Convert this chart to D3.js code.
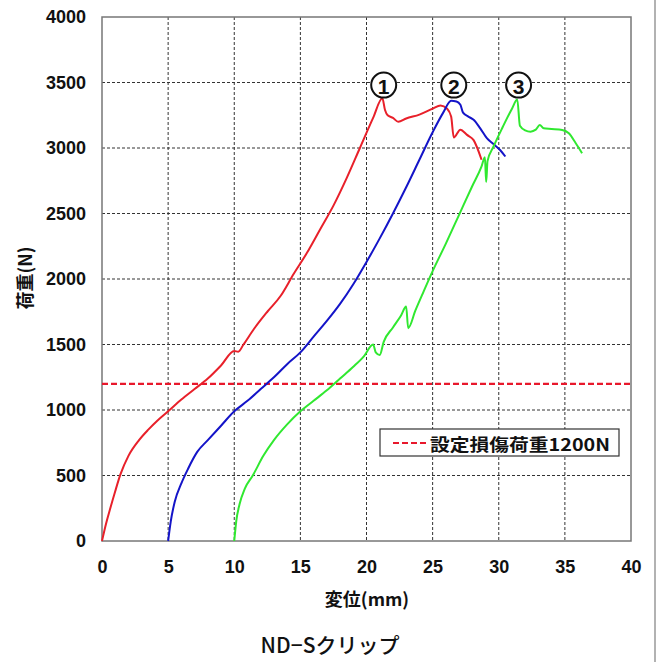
<!DOCTYPE html>
<html>
<head>
<meta charset="utf-8">
<script src="https://cdn.jsdelivr.net/npm/d3@7"></script>
<style>
  body { margin: 0; background: #fff; }
  text { font-family: "Liberation Sans", Arial, sans-serif; }
  .jp { font-family: "Noto Sans CJK JP", sans-serif; }
</style>
</head>
<body>
<div id="chart"></div>
<script>
// axis ticks
var xTicks = [0, 5, 10, 15, 20, 25, 30, 35, 40];
var yTicks = [0, 500, 1000, 1500, 2000, 2500, 3000, 3500, 4000];

// test curves [displacement mm, load N]
var curve1 = [[0,0],[0.3,130],[0.6,240],[1.0,380],[1.4,510],[2.0,650],[2.8,770],[3.5,850],[4.2,920],
  [5,990],[6,1080],[7,1160],[8,1240],[9,1340],[10,1450],[10.3,1445],[10.7,1500],[11.5,1620],
  [12.5,1750],[13.5,1870],[14.5,2040],[15.5,2200],[16.5,2380],[17.5,2560],[18.5,2770],[19.5,3000],
  [20.5,3230],[21.2,3380],[21.4,3290],[21.6,3250],[22.0,3230],[22.4,3200],[23.0,3225],[24.0,3255],
  [25.0,3300],[25.6,3325],[26.1,3300],[26.4,3240],[26.6,3080],[27.1,3140],[27.6,3100],[28.1,3060],[28.7,2910]];
var curve2 = [[5,0],[5.2,150],[5.5,300],[6.0,440],[6.5,550],[7.2,680],[8,770],[9,880],[10,990],
  [11,1070],[12,1160],[13,1250],[14,1350],[15,1440],[16,1560],[17,1680],[18,1810],[19,1960],
  [20,2130],[21,2310],[22,2500],[23,2700],[24,2910],[25,3120],[25.8,3270],[26.4,3360],[26.8,3355],
  [27.1,3330],[27.3,3270],[27.7,3240],[28.1,3215],[28.6,3150],[29.1,3075],[29.6,3030],[30.1,2985],[30.5,2935]];
var curve3 = [[10,0],[10.15,150],[10.4,280],[10.8,400],[11.4,500],[12.2,650],[13,770],[14,890],
  [15,990],[16,1070],[17,1150],[18,1240],[19,1330],[19.8,1410],[20.5,1500],[20.7,1440],[21.0,1420],
  [21.3,1520],[22,1630],[22.6,1720],[23.0,1790],[23.15,1625],[23.7,1760],[24.3,1900],[25,2060],
  [26,2270],[27,2490],[28,2710],[28.7,2860],[28.95,2930],[29.05,2740],[29.15,2900],[29.6,3010],
  [30.3,3160],[31.0,3300],[31.4,3370],[31.6,3170],[32.0,3135],[32.4,3125],[32.8,3140],[33.1,3175],
  [33.4,3150],[34.0,3145],[34.8,3137],[35.3,3112],[35.8,3040],[36.3,2960]];

var peakLabels = ["1", "2", "3"];
var peakX = [21.3, 26.6, 31.5];
var peakY = 3480;

var damageLoad = 1200;
var legendText = "設定損傷荷重1200N";

var W = 659, H = 662;
var m = {left: 102, right: 631, top: 17, bottom: 541};

var svg = d3.select("#chart").append("svg")
  .attr("width", W).attr("height", H);

var x = d3.scaleLinear().domain([0, 40]).range([m.left, m.right]);
var y = d3.scaleLinear().domain([0, 4000]).range([m.bottom, m.top]);

// outer frame line on the right
svg.append("line")
  .attr("x1", 655).attr("x2", 655).attr("y1", 0).attr("y2", H)
  .attr("stroke", "#999").attr("stroke-width", 1.5);

// grid
svg.append("g").selectAll("line").data(xTicks.slice(1, -1)).join("line")
  .attr("x1", d => x(d)).attr("x2", d => x(d))
  .attr("y1", m.top).attr("y2", m.bottom)
  .attr("stroke", "#333").attr("stroke-width", 1).attr("stroke-dasharray", "3,2");
svg.append("g").selectAll("line").data(yTicks.slice(1, -1)).join("line")
  .attr("y1", d => y(d)).attr("y2", d => y(d))
  .attr("x1", m.left).attr("x2", m.right)
  .attr("stroke", "#333").attr("stroke-width", 1).attr("stroke-dasharray", "3,2");

// plot border
svg.append("rect")
  .attr("x", m.left).attr("y", m.top)
  .attr("width", m.right - m.left).attr("height", m.bottom - m.top)
  .attr("fill", "none").attr("stroke", "#777").attr("stroke-width", 1.5);

// axes (labels only, no tick marks)
var xAxis = svg.append("g").attr("transform", "translate(0," + m.bottom + ")")
  .call(d3.axisBottom(x).tickValues(xTicks).tickFormat(d3.format("d")).tickSize(0).tickPadding(19));
var yAxis = svg.append("g").attr("transform", "translate(" + m.left + ",0)")
  .call(d3.axisLeft(y).tickValues(yTicks).tickFormat(d3.format("d")).tickSize(0).tickPadding(16));
[xAxis, yAxis].forEach(function(a){
  a.select(".domain").remove();
  a.selectAll("text")
    .attr("font-family", "'Liberation Sans', Arial, sans-serif")
    .attr("font-size", 18).attr("font-weight", "bold").attr("fill", "#111");
});

// damage load line
svg.append("line")
  .attr("x1", x(0)).attr("x2", x(40))
  .attr("y1", y(damageLoad)).attr("y2", y(damageLoad))
  .attr("stroke", "#e8182c").attr("stroke-width", 2.2).attr("stroke-dasharray", "6,3");

// curves
var line = d3.line().curve(d3.curveMonotoneX).x(d => x(d[0])).y(d => y(d[1]));
var series = [[curve1, "#e8202a"], [curve2, "#1414c8"], [curve3, "#30e830"]];
series.forEach(function(s){
  svg.append("path").datum(s[0])
    .attr("d", line)
    .attr("fill", "none").attr("stroke", s[1]).attr("stroke-width", 2)
    .attr("stroke-linejoin", "round");
});

// peak labels (circled numbers)
var pk = svg.append("g").selectAll("g").data(peakLabels).join("g")
  .attr("transform", (d, i) => "translate(" + x(peakX[i]) + "," + y(peakY) + ")");
pk.append("circle").attr("r", 12.5)
  .attr("fill", "#fff").attr("stroke", "#111").attr("stroke-width", 2);
pk.append("text")
  .attr("text-anchor", "middle").attr("dominant-baseline", "central").attr("y", 1)
  .attr("font-size", 21).attr("font-weight", "bold").attr("fill", "#111")
  .text(d => d);

// legend
var lg = svg.append("g");
lg.append("rect").attr("x", 380).attr("y", 429).attr("width", 239).attr("height", 27)
  .attr("fill", "#fff").attr("stroke", "#333").attr("stroke-width", 1.2);
lg.append("line").attr("x1", 393).attr("x2", 427).attr("y1", 443).attr("y2", 443)
  .attr("stroke", "#e8182c").attr("stroke-width", 2.2).attr("stroke-dasharray", "6,3");
lg.append("text").attr("class", "jp")
  .attr("x", 430).attr("y", 443).attr("dominant-baseline", "central")
  .attr("font-size", 17).attr("font-weight", "bold").attr("fill", "#111")
  .attr("textLength", 180).attr("lengthAdjust", "spacingAndGlyphs")
  .text(legendText);

// axis titles
svg.append("text").attr("class", "jp")
  .attr("x", 367).attr("y", 598).attr("text-anchor", "middle").attr("dominant-baseline", "central")
  .attr("font-size", 18).attr("font-weight", "bold").attr("fill", "#111")
  .text("変位(mm)");
svg.append("text").attr("class", "jp")
  .attr("transform", "translate(24,278) rotate(-90)")
  .attr("text-anchor", "middle").attr("dominant-baseline", "central")
  .attr("font-size", 18).attr("font-weight", "bold").attr("fill", "#111")
  .text("荷重(N)");

// title
svg.append("text").attr("class", "jp")
  .attr("x", 330).attr("y", 644).attr("text-anchor", "middle").attr("dominant-baseline", "central")
  .attr("font-size", 21).attr("font-weight", 500).attr("fill", "#111")
  .text("ND−Sクリップ");
</script>
</body>
</html>
